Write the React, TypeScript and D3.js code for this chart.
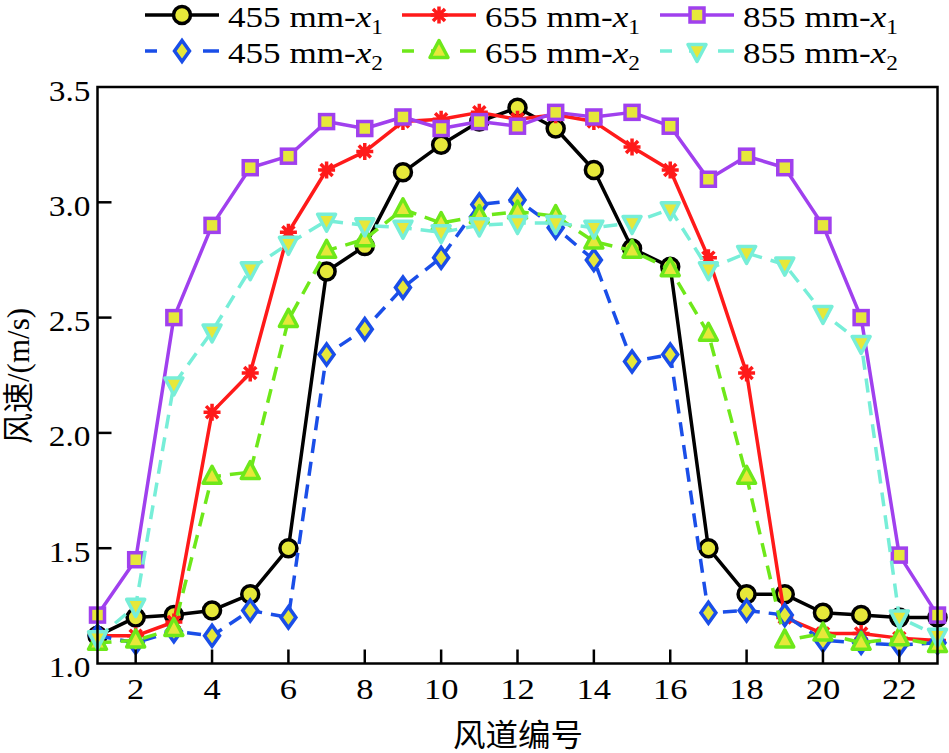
import React from "react";
import * as d3 from "d3";

const channels = d3.range(1, 24);
const s455x1 = [1.12, 1.2, 1.21, 1.23, 1.3, 1.5, 2.7, 2.81, 3.13, 3.25, 3.35, 3.41, 3.32, 3.14, 2.8, 2.72, 1.5, 1.3, 1.3, 1.22, 1.21, 1.2, 1.2];
const s655x1 = [1.12, 1.12, 1.18, 2.09, 2.26, 2.87, 3.14, 3.22, 3.35, 3.36, 3.39, 3.36, 3.38, 3.35, 3.24, 3.14, 2.76, 2.26, 1.2, 1.13, 1.13, 1.11, 1.1];
const s855x1 = [1.21, 1.45, 2.5, 2.9, 3.15, 3.2, 3.35, 3.32, 3.37, 3.32, 3.35, 3.33, 3.39, 3.37, 3.39, 3.33, 3.1, 3.2, 3.15, 2.9, 2.5, 1.47, 1.21];
const s455x2 = [1.12, 1.09, 1.14, 1.12, 1.23, 1.2, 2.34, 2.45, 2.63, 2.76, 2.99, 3.01, 2.89, 2.75, 2.31, 2.34, 1.22, 1.23, 1.21, 1.1, 1.09, 1.08, 1.09];
const s655x2 = [1.09, 1.1, 1.15, 1.81, 1.83, 2.49, 2.79, 2.84, 2.97, 2.91, 2.94, 2.96, 2.94, 2.83, 2.79, 2.71, 2.43, 1.81, 1.1, 1.13, 1.09, 1.11, 1.08];
const s855x2 = [1.11, 1.25, 2.21, 2.44, 2.71, 2.82, 2.92, 2.9, 2.89, 2.87, 2.9, 2.91, 2.91, 2.89, 2.91, 2.97, 2.71, 2.78, 2.73, 2.52, 2.39, 1.2, 1.12];

const seriesNames = ["455 mm-x1", "655 mm-x1", "855 mm-x1", "455 mm-x2", "655 mm-x2", "855 mm-x2"];
const yTicks = [1.0, 1.5, 2.0, 2.5, 3.0, 3.5];
const xTicks = [2, 4, 6, 8, 10, 12, 14, 16, 18, 20, 22];
const xLabel = "风道编号";
const yLabel = "风速/(m/s)";

const YELLOW = "#e6e83a";
const styles = [
  { values: s455x1, color: "#000000", dash: null, marker: "circle" },
  { values: s655x1, color: "#ff1a1a", dash: null, marker: "star" },
  { values: s855x1, color: "#a040ee", dash: null, marker: "square" },
  { values: s455x2, color: "#1a4ee8", dash: "14 9", marker: "diamond" },
  { values: s655x2, color: "#6ee81a", dash: "14 9", marker: "triangle" },
  { values: s855x2, color: "#77eed8", dash: "14 9", marker: "tridown" },
];

const FONT = "'Liberation Serif', 'Times New Roman', 'Noto Sans CJK SC', serif";

function Marker({ type, x, y, color }: { type: string; x: number; y: number; color: string }) {
  const sw = 3.5;
  if (type === "circle") return <circle cx={x} cy={y} r={8.5} fill={YELLOW} stroke={color} strokeWidth={sw} />;
  if (type === "square") return <rect x={x - 7} y={y - 7} width={14} height={14} fill={YELLOW} stroke={color} strokeWidth={sw} />;
  if (type === "diamond") return <path d={`M${x},${y - 10.5}L${x + 7.5},${y}L${x},${y + 10.5}L${x - 7.5},${y}Z`} fill={YELLOW} stroke={color} strokeWidth={sw} />;
  if (type === "triangle") return <path d={`M${x},${y - 10.5}L${x + 9},${y + 6.5}L${x - 9},${y + 6.5}Z`} fill={YELLOW} stroke={color} strokeWidth={sw} strokeLinejoin="round" />;
  if (type === "tridown") return <path d={`M${x},${y + 10.5}L${x + 9},${y - 6.5}L${x - 9},${y - 6.5}Z`} fill={YELLOW} stroke={color} strokeWidth={sw} strokeLinejoin="round" />;
  const r = 8.5;
  const arms = d3.range(4).map((i) => {
    const a = (i * Math.PI) / 4;
    return `M${x - r * Math.cos(a)},${y - r * Math.sin(a)}L${x + r * Math.cos(a)},${y + r * Math.sin(a)}`;
  });
  return <path d={arms.join("")} stroke={color} strokeWidth={3.5} fill="none" />;
}

function LegendLabel({ x, y, name }: { x: number; y: number; name: string }) {
  const [num, rest] = name.split(" mm-x");
  return (
    <text transform={`translate(${x},${y}) scale(1.17,1)`} fontFamily={FONT} fontSize={30} fill="#000">
      {num} mm-<tspan fontStyle="italic">x</tspan>
      <tspan fontSize={20} dy={7}>{rest}</tspan>
    </text>
  );
}

export default function App() {
  const left = 97.5, right = 937.5, top = 87, bottom = 663.5;
  const x = d3.scaleLinear().domain([1, 23]).range([left, right]);
  const y = d3.scaleLinear().domain([1, 3.5]).range([bottom, top]);
  const line = d3.line<number>().x((_, i) => x(channels[i])).y((d) => y(d));

  const legendCols = [145, 402, 660];
  const legendRows = [15, 51];

  return (
    <svg width={949} height={753} style={{ position: "absolute", left: 0, top: 0, background: "#fff" }}>
      <rect x={0} y={0} width={949} height={753} fill="#fff" />
      {styles.map((s, i) => (
        <g key={i}>
          <path d={line(s.values) || ""} fill="none" stroke={s.color} strokeWidth={3.5} strokeDasharray={s.dash || undefined} strokeLinejoin="round" />
          {s.values.map((v, j) => (
            <Marker key={j} type={s.marker} x={x(channels[j])} y={y(v)} color={s.color} />
          ))}
        </g>
      ))}
      <rect x={left} y={top} width={right - left} height={bottom - top} fill="none" stroke="#000" strokeWidth={2.5} />
      {yTicks.map((t) => (
        <g key={t}>
          {t > 1 && t < 3.5 && <line x1={left} x2={left + 14} y1={y(t)} y2={y(t)} stroke="#000" strokeWidth={2.5} />}
          <text transform={`translate(${left - 7},${y(t) + 13.5}) scale(1.15,1)`} textAnchor="end" fontFamily={FONT} fontSize={29} fill="#000">
            {t.toFixed(1)}
          </text>
        </g>
      ))}
      {xTicks.map((t) => (
        <g key={t}>
          <line x1={x(t)} x2={x(t)} y1={bottom} y2={bottom - 14} stroke="#000" strokeWidth={2.5} />
          <text transform={`translate(${x(t)},699) scale(1.15,1)`} textAnchor="middle" fontFamily={FONT} fontSize={30} fill="#000">
            {t}
          </text>
        </g>
      ))}
      <text transform="translate(518,746) scale(1.05,1)" textAnchor="middle" fontFamily={FONT} fontSize={31} fill="#000">{xLabel}</text>
      <text transform="translate(29,376) rotate(-90)" textAnchor="middle" fontFamily={FONT} fontSize={31} fill="#000">{yLabel}</text>
      {styles.map((s, i) => {
        const cx = legendCols[i % 3];
        const cy = legendRows[Math.floor(i / 3)];
        return (
          <g key={i}>
            <line x1={cx} x2={cx + 74} y1={cy} y2={cy} stroke={s.color} strokeWidth={3.5} strokeDasharray={s.dash ? "12 17 0 0" : undefined} />
            {s.dash && <line x1={cx + 70} x2={cx + 74} y1={cy} y2={cy} stroke={s.color} strokeWidth={3.5} />}
            <Marker type={s.marker} x={cx + 37} y={cy} color={s.color} />
            <LegendLabel x={cx + 83} y={cy + 12} name={seriesNames[i]} />
          </g>
        );
      })}
    </svg>
  );
}
